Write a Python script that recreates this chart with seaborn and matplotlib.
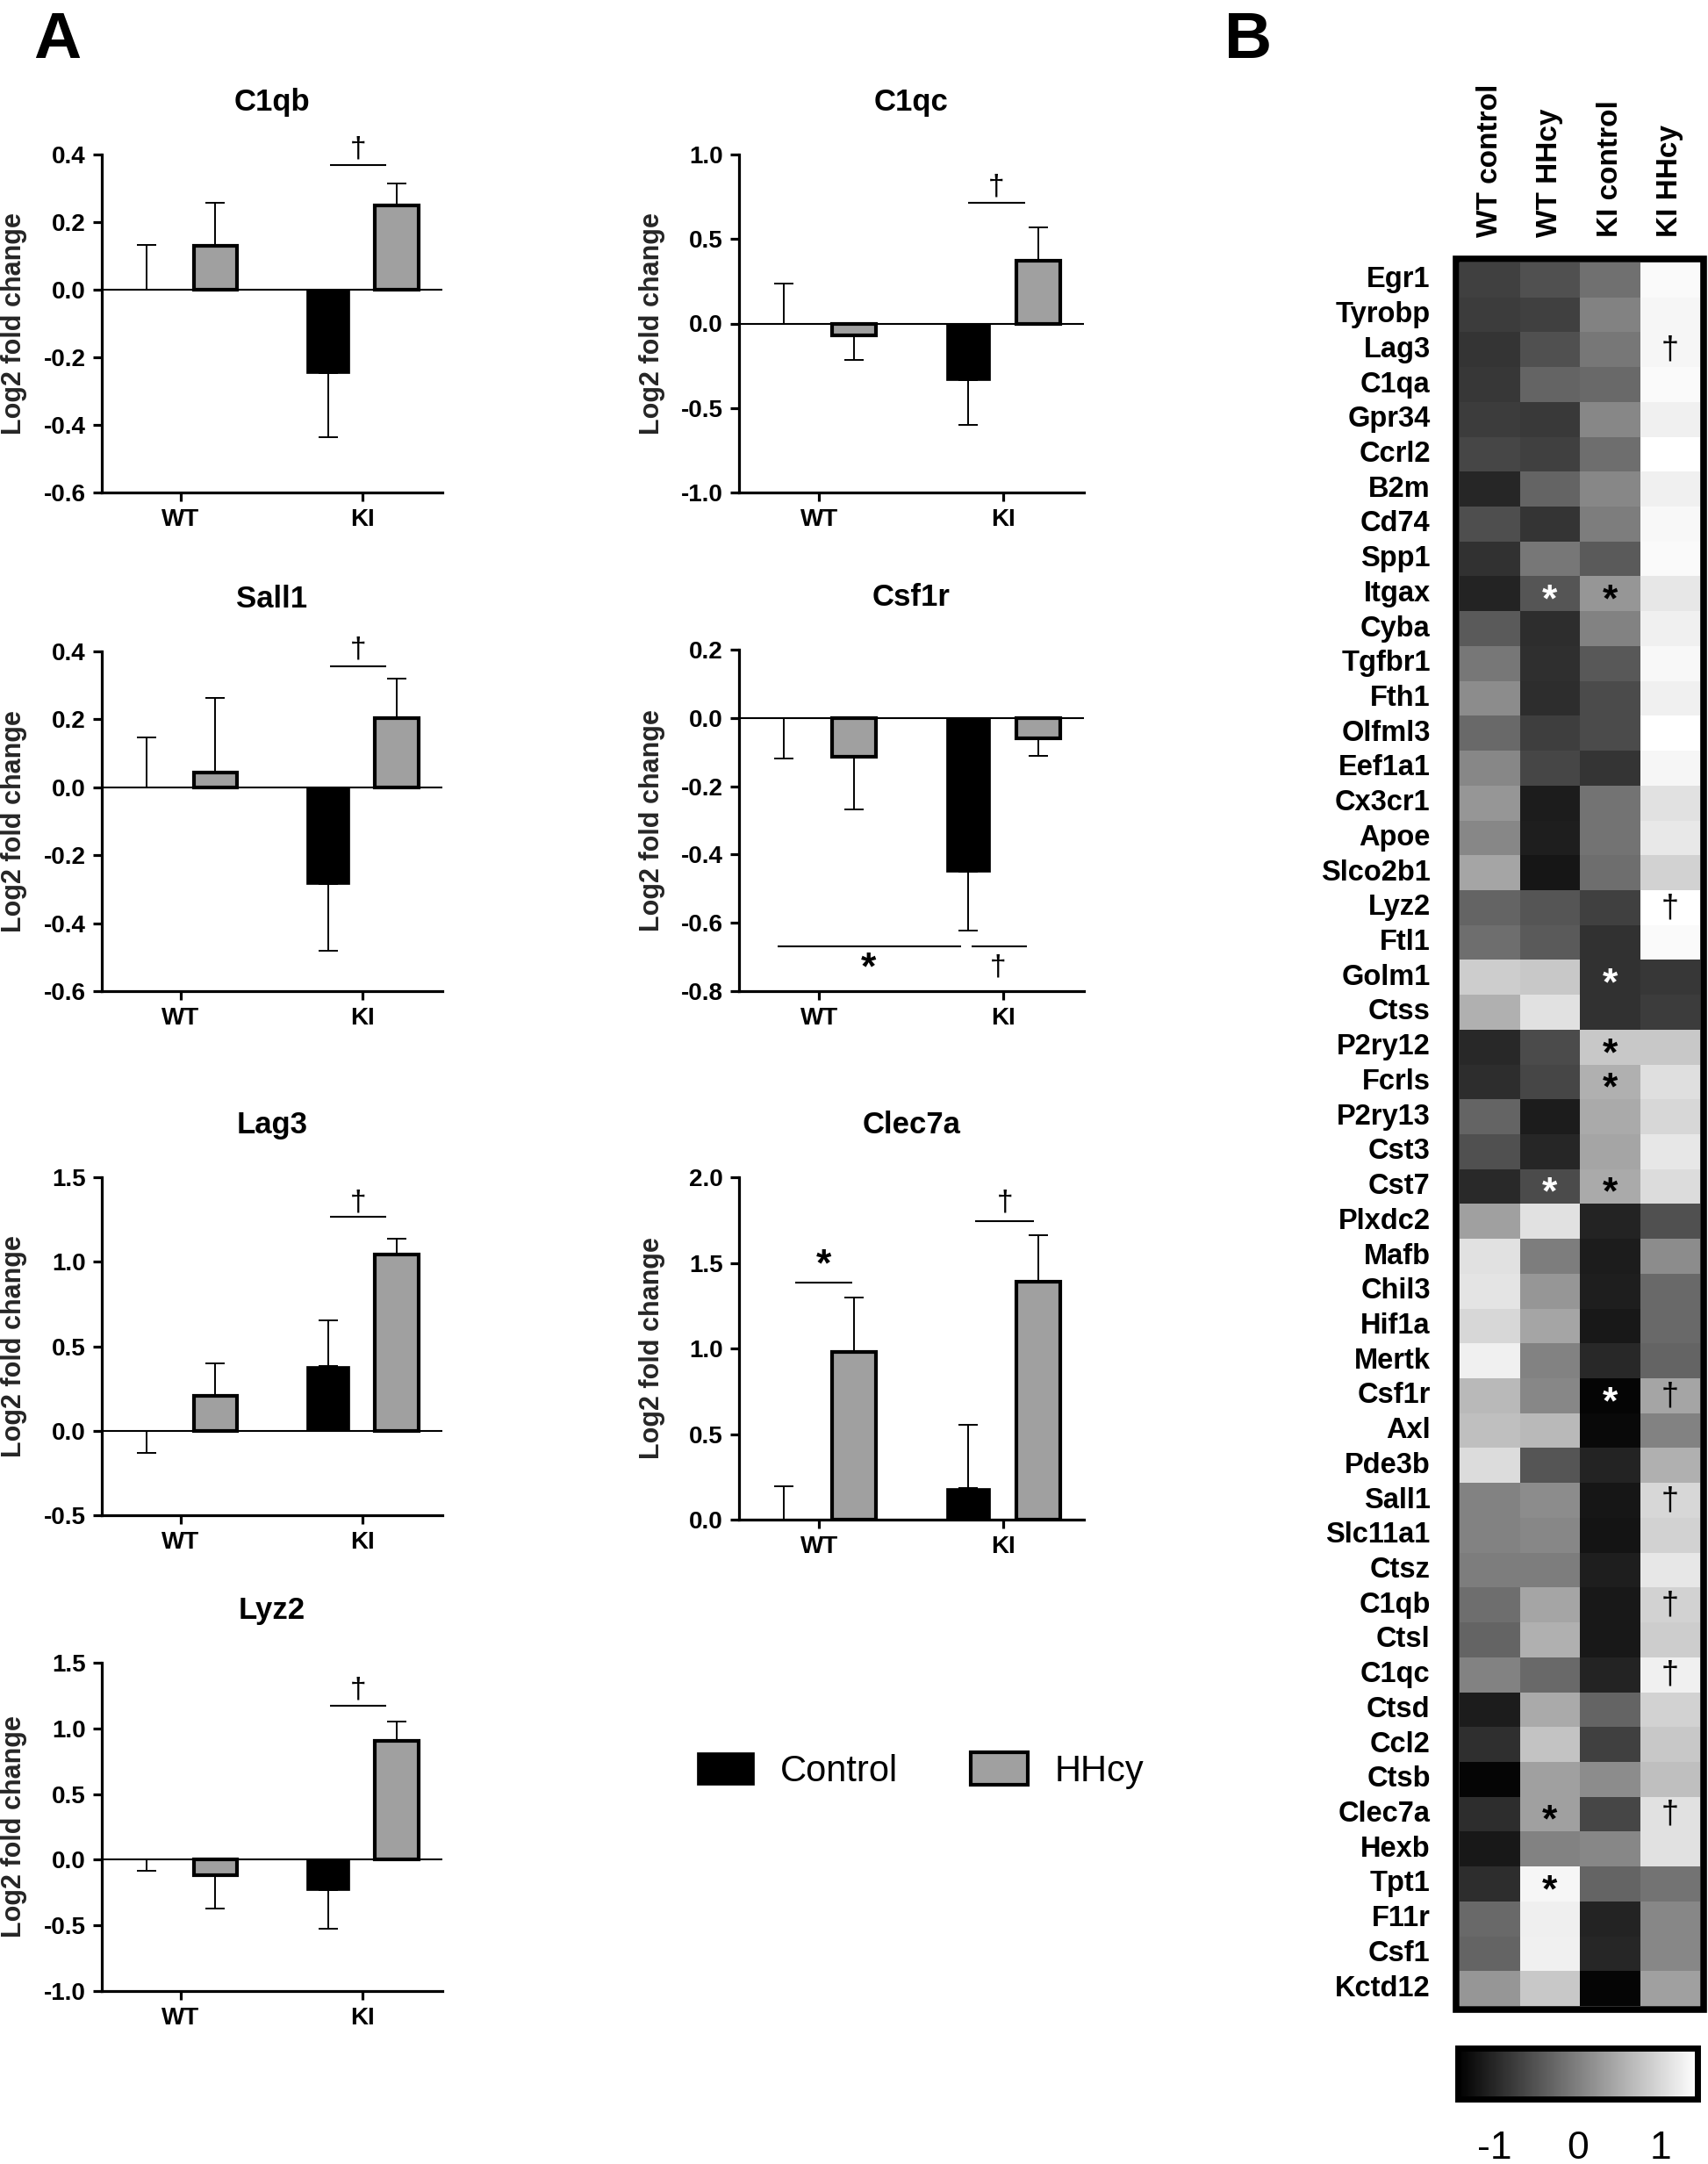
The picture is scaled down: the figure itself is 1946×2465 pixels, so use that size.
import numpy as np
import pandas as pd
import matplotlib
matplotlib.use("Agg")
import matplotlib.pyplot as plt
import seaborn as sns
from matplotlib import font_manager as fm
from matplotlib.patches import Rectangle, Patch
from matplotlib.container import BarContainer

# ---------------- data: bar panels ----------------
genotypes = ["WT", "KI"]
treatments = ["Control", "HHcy"]
# order of each list: WT-Control, WT-HHcy, KI-Control, KI-HHcy
# err is the one-sided SEM bar; its sign gives the direction the bar is drawn
c1qb_mean = [0.0, 0.13, -0.247, 0.249]
c1qb_err = [0.133, 0.128, -0.19, 0.065]
c1qc_mean = [0.0, -0.069, -0.336, 0.372]
c1qc_err = [0.235, -0.147, -0.263, 0.195]
sall1_mean = [0.0, 0.044, -0.284, 0.204]
sall1_err = [0.148, 0.218, -0.197, 0.117]
csf1r_mean = [0.0, -0.113, -0.451, -0.06]
csf1r_err = [-0.118, -0.155, -0.172, -0.051]
lag3_mean = [0.0, 0.208, 0.381, 1.045]
lag3_err = [-0.129, 0.19, 0.27, 0.09]
clec7a_mean = [0.0, 0.982, 0.184, 1.39]
clec7a_err = [0.193, 0.315, 0.37, 0.27]
lyz2_mean = [0.0, -0.115, -0.234, 0.903]
lyz2_err = [-0.085, -0.257, -0.294, 0.149]

# ---------------- data: heatmap ----------------
genes = ["Egr1", "Tyrobp", "Lag3", "C1qa", "Gpr34", "Ccrl2", "B2m", "Cd74", "Spp1", "Itgax",
         "Cyba", "Tgfbr1", "Fth1", "Olfml3", "Eef1a1", "Cx3cr1", "Apoe", "Slco2b1", "Lyz2", "Ftl1",
         "Golm1", "Ctss", "P2ry12", "Fcrls", "P2ry13", "Cst3", "Cst7", "Plxdc2", "Mafb", "Chil3",
         "Hif1a", "Mertk", "Csf1r", "Axl", "Pde3b", "Sall1", "Slc11a1", "Ctsz", "C1qb", "Ctsl",
         "C1qc", "Ctsd", "Ccl2", "Ctsb", "Clec7a", "Hexb", "Tpt1", "F11r", "Csf1", "Kctd12"]
groups = ["WT control", "WT HHcy", "KI control", "KI HHcy"]
wt_control = [-0.72, -0.76, -0.85, -0.82, -0.76, -0.65, -1.01, -0.56, -0.88, -1.04,
              -0.42, -0.09, 0.14, -0.25, 0.08, 0.25, 0.08, 0.42, -0.31, -0.20,
              0.87, 0.54, -0.99, -0.93, -0.31, -0.54, -0.97, 0.37, 1.10, 1.13,
              0.99, 1.27, 0.65, 0.71, 1.04, 0.03, 0.03, -0.03, -0.20, -0.31,
              0.03, -1.12, -0.90, -1.38, -0.93, -1.16, -0.93, -0.25, -0.31, 0.25]
wt_hhcy = [-0.54, -0.72, -0.54, -0.31, -0.79, -0.71, -0.31, -0.85, -0.09, -0.48,
           -0.93, -0.90, -0.93, -0.74, -0.65, -1.12, -1.10, -1.19, -0.48, -0.42,
           0.82, 1.10, -0.59, -0.65, -1.12, -1.01, -0.59, 1.10, -0.03, 0.25,
           0.42, 0.03, 0.08, 0.65, -0.48, 0.14, 0.08, -0.03, 0.42, 0.54,
           -0.25, 0.48, 0.76, 0.37, 0.37, 0.03, 1.33, 1.25, 1.27, 0.82]
ki_control = [-0.18, 0.03, -0.09, -0.25, 0.08, -0.20, 0.08, -0.03, -0.42, 0.25,
              0.03, -0.45, -0.59, -0.59, -0.85, -0.14, -0.14, -0.20, -0.71, -0.88,
              -0.88, -0.88, 0.82, 0.54, 0.48, 0.42, 0.48, -1.04, -1.12, -1.10,
              -1.16, -0.99, -1.38, -1.33, -1.04, -1.19, -1.21, -1.10, -1.16, -1.16,
              -1.04, -0.31, -0.71, 0.14, -0.65, 0.08, -0.31, -1.04, -1.01, -1.38]
ki_hhcy = [1.38, 1.33, 1.33, 1.38, 1.27, 1.44, 1.27, 1.36, 1.38, 1.16,
           1.27, 1.36, 1.27, 1.44, 1.33, 1.10, 1.18, 0.93, 1.44, 1.38,
           -0.82, -0.76, 0.82, 1.07, 0.99, 1.16, 1.04, -0.54, 0.14, -0.25,
           -0.25, -0.31, 0.42, 0.03, 0.54, 0.99, 0.93, 1.16, 0.93, 0.87,
           1.27, 0.93, 0.82, 0.71, 1.10, 1.10, -0.14, 0.08, 0.08, 0.37]
heat_marks = [("Lag3", "KI HHcy", "†"), ("Itgax", "WT HHcy", "*"), ("Itgax", "KI control", "*"),
              ("Lyz2", "KI HHcy", "†"), ("Golm1", "KI control", "*"), ("P2ry12", "KI control", "*"),
              ("Fcrls", "KI control", "*"), ("Cst7", "WT HHcy", "*"), ("Cst7", "KI control", "*"),
              ("Csf1r", "KI control", "*"), ("Csf1r", "KI HHcy", "†"), ("Sall1", "KI HHcy", "†"),
              ("C1qb", "KI HHcy", "†"), ("C1qc", "KI HHcy", "†"), ("Clec7a", "WT HHcy", "*"),
              ("Clec7a", "KI HHcy", "†"), ("Tpt1", "WT HHcy", "*")]

# ---------------- style ----------------
sns.set_theme(style="ticks")
names = {f.name for f in fm.fontManager.ttflist}
NARROW = "Liberation Sans Narrow" if "Liberation Sans Narrow" in names else "Liberation Sans"
plt.rcParams["font.family"] = ["Liberation Sans", "DejaVu Sans"]
plt.rcParams["axes.edgecolor"] = "black"
plt.rcParams["text.color"] = "black"
plt.rcParams["xtick.color"] = "black"
plt.rcParams["ytick.color"] = "black"

W, H = 1946, 2465
fig = plt.figure(figsize=(W / 100, H / 100), dpi=100)


def px_axes(x0, y0, x1, y1):
    return fig.add_axes([x0 / W, 1 - y1 / H, (x1 - x0) / W, (y1 - y0) / H])


GRAY = "#a0a0a0"


def fmt_tick(v, _pos):
    s = f"{v:.1f}"
    return "0.0" if s == "-0.0" else s


def bar_panel(box, title, mean, err, ylim, step, marks, label_x):
    ax = px_axes(*box)
    df = pd.DataFrame({
        "genotype": [g for g in genotypes for _ in treatments],
        "treatment": [t for _ in genotypes for t in treatments],
        "value": mean,
    })
    sns.barplot(data=df, x="genotype", y="value", hue="treatment", order=genotypes,
                hue_order=treatments, palette={"Control": "black", "HHcy": GRAY},
                saturation=1, width=0.76, gap=0.37, errorbar=None, legend=False, ax=ax, zorder=3)
    bar_conts = [c for c in ax.containers if isinstance(c, BarContainer)]
    for ti, cont in enumerate(bar_conts):
        for gi, patch in enumerate(cont.patches):
            patch.set_edgecolor("black")
            patch.set_linewidth(3.0 if ti == 1 else 0.5)
            k = gi * 2 + ti
            e = err[k]
            xc = patch.get_x() + patch.get_width() / 2
            lo, hi = (0, e) if e > 0 else (-e, 0)
            ax.errorbar([xc], [mean[k]], yerr=[[lo], [hi]], fmt="none", ecolor="black",
                        elinewidth=1.4, capsize=8, capthick=1.4, zorder=2)
    ax.axhline(0, color="black", lw=1.5, zorder=4)
    ax.set_xlim(-0.435, 1.44)
    ax.set_ylim(*ylim)
    ax.set_yticks(np.arange(ylim[0], ylim[1] + 1e-9, step))
    ax.yaxis.set_major_formatter(matplotlib.ticker.FuncFormatter(fmt_tick))
    sns.despine(ax=ax)
    ax.spines["left"].set_linewidth(2.3)
    ax.spines["bottom"].set_linewidth(2.3)
    ax.tick_params(axis="both", direction="out", length=7, width=2.3, pad=6)
    for lab in ax.get_xticklabels() + ax.get_yticklabels():
        lab.set_fontfamily(NARROW)
        lab.set_fontweight("bold")
        lab.set_fontsize(20)
    ax.set_xlabel("")
    ax.set_ylabel("Log2 fold change", fontsize=22, fontweight="bold")
    ax.yaxis.set_label_coords(label_x, 0.5)
    ax.set_title(title, fontsize=25, fontweight="bold", family=NARROW, pad=36)
    for (x1, x2, yl, sym, xs, ys) in marks:
        ax.plot([x1, x2], [yl, yl], color="black", lw=1.5, solid_capstyle="butt")
        if sym == "*":
            ax.text(xs, ys, sym, ha="center", va="center", fontsize=32, fontweight="bold")
        else:
            ax.text(xs, ys, sym, ha="center", va="center", fontsize=24)
    return ax


LX0, LX1 = 116, 504
RX0, RX1 = 842, 1235
bar_panel((LX0, 176, LX1, 561), "C1qb", c1qb_mean, c1qb_err, (-0.6, 0.4), 0.2,
          [(0.82, 1.13, 0.368, "†", 0.975, 0.415)], -0.22)
bar_panel((RX0, 176, RX1, 561), "C1qc", c1qc_mean, c1qc_err, (-1.0, 1.0), 0.5,
          [(0.81, 1.12, 0.712, "†", 0.965, 0.81)], -0.215)
bar_panel((LX0, 742, LX1, 1129), "Sall1", sall1_mean, sall1_err, (-0.6, 0.4), 0.2,
          [(0.82, 1.13, 0.357, "†", 0.975, 0.405)], -0.22)
bar_panel((RX0, 740, RX1, 1129), "Csf1r", csf1r_mean, csf1r_err, (-0.8, 0.2), 0.2,
          [(-0.225, 0.77, -0.67, "*", 0.27, -0.735), (0.83, 1.13, -0.67, "†", 0.975, -0.73)], -0.215)
bar_panel((LX0, 1341, LX1, 1726), "Lag3", lag3_mean, lag3_err, (-0.5, 1.5), 0.5,
          [(0.82, 1.13, 1.266, "†", 0.975, 1.35)], -0.22)
bar_panel((RX0, 1341, RX1, 1731), "Clec7a", clec7a_mean, clec7a_err, (0.0, 2.0), 0.5,
          [(-0.13, 0.18, 1.383, "*", 0.025, 1.48), (0.85, 1.17, 1.745, "†", 1.01, 1.85)], -0.215)
bar_panel((LX0, 1894, LX1, 2268), "Lyz2", lyz2_mean, lyz2_err, (-1.0, 1.5), 0.5,
          [(0.82, 1.13, 1.174, "†", 0.975, 1.29)], -0.22)

# legend
handles = [Patch(facecolor="black", edgecolor="black", lw=0.5),
           Patch(facecolor=GRAY, edgecolor="black", lw=3.0)]
fig.legend(handles, treatments, loc="center left", bbox_to_anchor=(794 / W, 1 - 2017 / H),
           ncol=2, frameon=False, fontsize=30, handlelength=1.56, handleheight=0.98,
           handletextpad=0.72, columnspacing=2.0, borderpad=0, borderaxespad=0)

# ---------------- heatmap ----------------
heat_df = pd.DataFrame({"WT control": wt_control, "WT HHcy": wt_hhcy,
                        "KI control": ki_control, "KI HHcy": ki_hhcy}, index=genes)[groups]
HX0, HY0, HX1, HY1 = 1663, 299, 1937, 2285
hax = px_axes(HX0, HY0, HX1, HY1)
VMAX = 1.44
sns.heatmap(heat_df, cmap="gray", vmin=-VMAX, vmax=VMAX, cbar=False, ax=hax,
            xticklabels=groups, yticklabels=genes, linewidths=0)
hax.xaxis.tick_top()
hax.tick_params(axis="both", length=0)
hax.tick_params(axis="y", pad=24)
hax.tick_params(axis="x", pad=21)
for lab in hax.get_yticklabels():
    lab.set_fontsize(23.5)
    lab.set_fontweight("bold")
    lab.set_rotation(0)
for lab in hax.get_xticklabels():
    lab.set_fontsize(24)
    lab.set_fontweight("bold")
    lab.set_rotation(90)
    lab.set_va("bottom")
hax.set_xlabel("")
hax.set_ylabel("")
for gene, grp, sym in heat_marks:
    r = genes.index(gene)
    c = groups.index(grp)
    val = heat_df.loc[gene, grp]
    col = "white" if val < -0.3 else "black"
    if sym == "*":
        hax.text(c + 0.5, r + 0.72, sym, ha="center", va="center", fontsize=32,
                 fontweight="bold", color=col)
    else:
        hax.text(c + 0.5, r + 0.52, sym, ha="center", va="center", fontsize=26, color=col)

fig.add_artist(Rectangle((1659 / W, 1 - 2289 / H), (1941 - 1659) / W, (2289 - 295) / H,
                         transform=fig.transFigure, fill=False, lw=5.5, ec="black"))

# colorbar
cax = px_axes(1661, 2333, 1934, 2391)
cbar = fig.colorbar(hax.collections[0], cax=cax, orientation="horizontal")
cbar.set_ticks([-1, 0, 1])
cbar.outline.set_linewidth(5)
cbar.outline.set_edgecolor("black")
cax.tick_params(axis="x", direction="in", length=9, width=3, top=True, bottom=True,
                labelsize=32, pad=26)
cax.set_xticklabels(["-1", "0", "1"])

# panel letters
fig.text(38 / W, 1 - 66 / H, "A", fontsize=54, fontweight="bold", va="baseline")
fig.text(1395 / W, 1 - 66 / H, "B", fontsize=54, fontweight="bold", va="baseline")

fig.savefig("out.png", dpi=100, facecolor="white")
